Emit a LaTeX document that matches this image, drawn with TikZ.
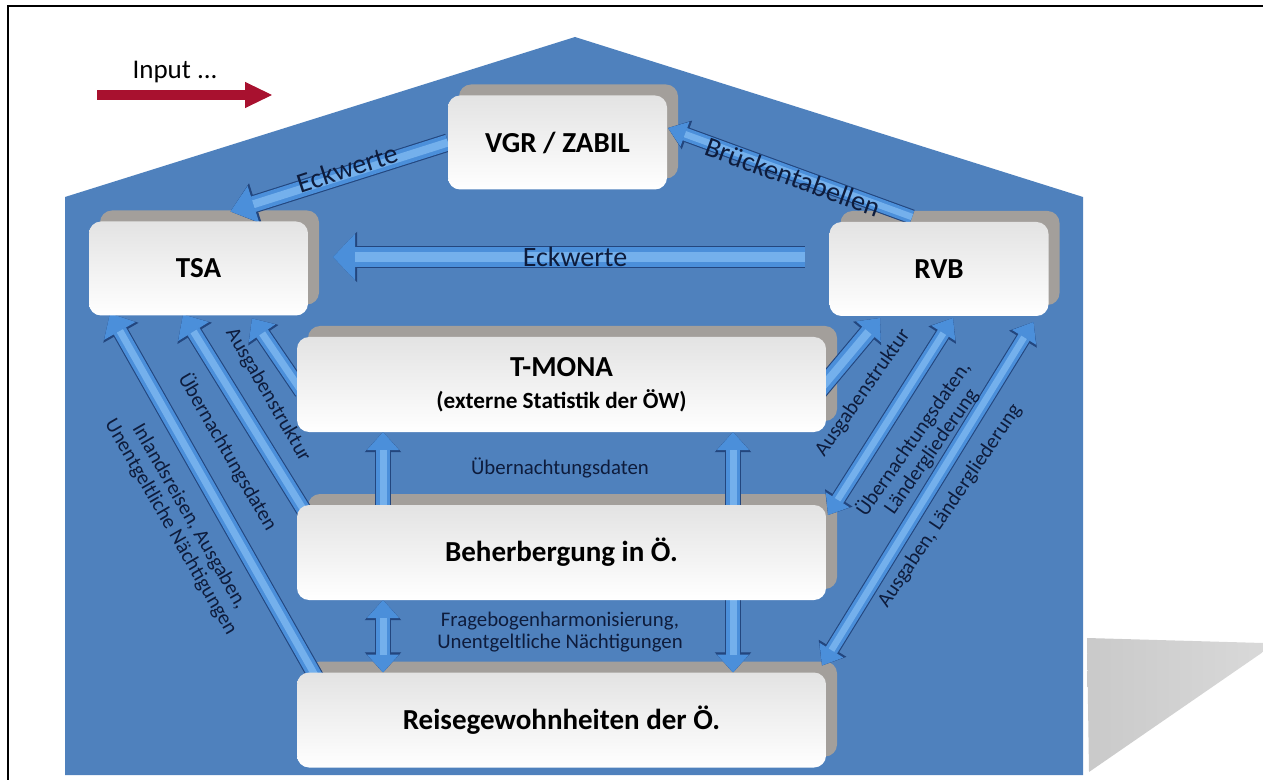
\documentclass[tikz,border=0pt]{standalone}
\usepackage{fontspec}
\setmainfont{Carlito}
\usetikzlibrary{arrows.meta}
\definecolor{houseblue}{HTML}{4F81BD}
\definecolor{arrowmain}{HTML}{4B8FDA}
\definecolor{arrowdark}{HTML}{23467E}
\definecolor{arrowlight}{HTML}{74B0EC}
\definecolor{labelnavy}{HTML}{0E1C3C}
\definecolor{boxshadow}{HTML}{A39F9B}
\definecolor{inputred}{HTML}{A8112F}
\pgfdeclarelayer{bg}
\pgfdeclarelayer{shadowlayer}
\pgfdeclarelayer{arrowlayer}
\pgfsetlayers{bg,shadowlayer,arrowlayer,main}
\tikzset{
  box/.style={shade, top color=gray!22, bottom color=white, rounded corners=6pt,
    inner sep=0pt, outer sep=0pt, text=black, align=center,
    font=\fontsize{14.5}{16}\selectfont\bfseries},
  smallbox/.style={box, minimum width=109.5pt, minimum height=47pt},
  widebox/.style={box, minimum width=264.5pt, minimum height=47.5pt},
  boxshade/.style={fill=boxshadow, rounded corners=6pt},
  fatset/.code n args={3}{%
    \pgfmathsetlengthmacro\fatw{#1}%
    \pgfmathsetlengthmacro\fatW{#1+1.1pt}%
    \pgfmathsetlengthmacro\fathw{#2}%
    \pgfmathsetlengthmacro\fathW{#2+2.2pt}%
    \pgfmathsetlengthmacro\fathl{#3}%
    \pgfmathsetlengthmacro\fathL{#3+1.1pt}%
    \pgfmathsetlengthmacro\fathi{0.5*#1}%
  },
  fat/.style n args={3}{fatset={#1}{#2}{#3},
    line width=\fatw, draw=arrowmain,
    -{Triangle[length=\fathl,width=\fathw,line width=0.5pt]},
    preaction={draw=arrowdark, line width=\fatW,
      -{Triangle[length=\fathL,width=\fathW,line width=0.5pt]}},
    postaction={draw=arrowlight, line width=\fathi, -, shorten >=\fathl}},
  fatboth/.style n args={3}{fatset={#1}{#2}{#3},
    line width=\fatw, draw=arrowmain,
    {Triangle[length=\fathl,width=\fathw,line width=0.5pt]}-{Triangle[length=\fathl,width=\fathw,line width=0.5pt]},
    preaction={draw=arrowdark, line width=\fatW,
      {Triangle[length=\fathL,width=\fathW,line width=0.5pt]}-{Triangle[length=\fathL,width=\fathW,line width=0.5pt]}},
    postaction={draw=arrowlight, line width=\fathi, -, shorten >=\fathl, shorten <=\fathl}},
  toplabel/.style={text=labelnavy, font=\fontsize{14}{15}\selectfont, inner sep=0pt},
  sidelabel/.style={text=labelnavy, font=\fontsize{10.4}{10.8}\selectfont, inner sep=0pt, align=center},
}
\begin{document}
\begin{tikzpicture}[x=0.5pt, y=-0.5pt]
\useasboundingbox (0,0) rectangle (1263,780);
% frame
\draw[line width=1pt] (8,780) -- (8,6) -- (1263,6);
% house and floor shadow
\begin{pgfonlayer}{bg}
  \fill[houseblue] (65,775) -- (65,197) -- (575,37) -- (1083,197) -- (1083,775) -- cycle;
  \shade[left color=black!21, right color=black!15] (1087,638) -- (1263,643) -- (1263,652) -- (1089,772) -- cycle;
\end{pgfonlayer}

% boxes
\node[smallbox] (vgr) at (557.5,142.5) {VGR / ZABIL};
\node[smallbox] (tsa) at (198.5,268.5) {TSA};
\node[smallbox] (rvb) at (939,269) {RVB};
\node[widebox] (tmona) at (561.5,384.5) {T-MONA\\[0pt]{\fontsize{11.6}{13}\selectfont (externe Statistik der ÖW)}};
\node[widebox] (beh) at (561.5,552.5) {Beherbergung in Ö.};
\node[widebox] (reise) at (561.5,720) {Reisegewohnheiten der Ö.};

% box shadows
\begin{pgfonlayer}{shadowlayer}
  \foreach \n in {vgr,tsa,rvb,tmona,beh,reise}{
    \fill[boxshade] ([shift={(11,-11)}]\n.south west) rectangle ([shift={(11,-11)}]\n.north east);
  }
\end{pgfonlayer}

% input arrow
\node[font=\fontsize{13.5}{16}\selectfont, inner sep=0pt] (inlabel) at (175,72) {Input ...};
\coordinate (inA) at (97,95);
\coordinate (inB) at (272,95);
\draw[inputred, line width=5pt, -{Triangle[length=13.5pt,width=13pt,line width=0.5pt]}] (inA) -- (inB);

% connectors
\begin{pgfonlayer}{arrowlayer}
  \draw[fat={8pt}{19pt}{12pt}] (vgr.west) -- ([shift={(32,-10)}]tsa.north);
  \draw[fat={6.5pt}{13pt}{9pt}] ([shift={(-27,-5)}]rvb.north) -- ([shift={(1,-14.5)}]vgr.east);
  \draw[fat={10pt}{23pt}{11pt}] ([shift={(-25,-12)}]rvb.west) -- ([shift={(25,-11.5)}]tsa.east);
  \draw[fat={7pt}{18pt}{10pt}] ([shift={(21,8)}]reise.north west) -- ([shift={(21,-2)}]tsa.south west);
  \draw[fat={7pt}{18pt}{10pt}] ([shift={(8,7)}]beh.north west) -- ([shift={(-15.5,-1)}]tsa.south);
  \draw[fat={7pt}{16pt}{9pt}] ([shift={(5,55)}]tmona.north west) -- ([shift={(53.5,3)}]tsa.south);
  \draw[fat={8pt}{16pt}{9pt}] ([shift={(-8,55)}]tmona.north east) -- ([shift={(-59,2)}]rvb.south);
  \draw[fatboth={6.5pt}{14pt}{9pt}] ([shift={(14,2)}]rvb.south) -- ([shift={(2,10)}]beh.north east);
  \draw[fatboth={6.5pt}{14pt}{9pt}] ([shift={(-15,6)}]rvb.south east) -- ([shift={(-4,-7)}]reise.north east);
  \draw[fat={7pt}{16pt}{9pt}] ([shift={(-178.5,5)}]beh.north) -- ([shift={(-178.5,0)}]tmona.south);
  \draw[fatboth={7pt}{16pt}{9pt}] ([shift={(171.5,0)}]tmona.south) -- ([shift={(171.5,0)}]reise.north);
  \draw[fatboth={7pt}{16pt}{9pt}] ([shift={(-178.5,0)}]beh.south) -- ([shift={(-178.5,0)}]reise.north);
\end{pgfonlayer}

% labels
\node[toplabel, rotate=18] (l1) at (347,168) {Eckwerte};
\node[toplabel, rotate=-20] (l2) at (793,177) {Brückentabellen};
\node[toplabel] (l3) at (575,257) {Eckwerte};
\node[sidelabel, rotate=-60] (l4) at (268,395) {Ausgabenstruktur};
\node[sidelabel, rotate=-60] (l5) at (228,452) {Übernachtungsdaten};
\node[sidelabel, rotate=-60] (l6) at (180,522) {Inlandsreisen, Ausgaben,\\Unentgeltliche Nächtigungen};
\node[sidelabel, rotate=55] (l7) at (863,393) {Ausgabenstruktur};
\node[sidelabel, rotate=55] (l8) at (922,445) {Übernachtungsdaten,\\Ländergliederung};
\node[sidelabel, rotate=56] (l9) at (950,506) {Ausgaben, Ländergliederung};
\node[sidelabel] (l10) at (560,468) {Übernachtungsdaten};
\node[sidelabel] (l11) at (560,632) {Fragebogenharmonisierung,\\Unentgeltliche Nächtigungen};
\end{tikzpicture}
\end{document}
